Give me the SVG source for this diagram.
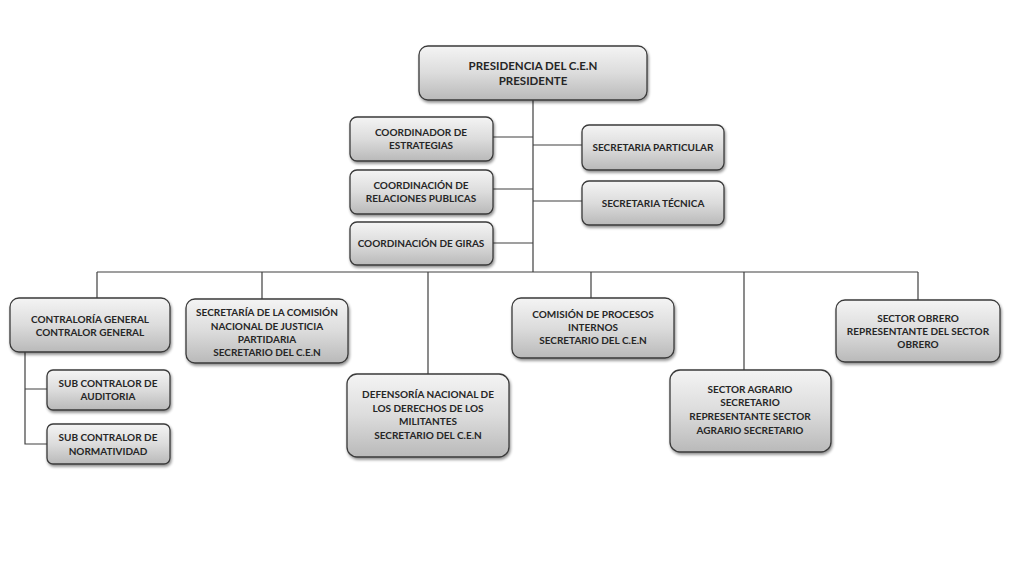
<svg xmlns="http://www.w3.org/2000/svg" width="1024" height="576" viewBox="0 0 1024 576">
<defs>
<linearGradient id="g" x1="0" y1="0" x2="0" y2="1">
<stop offset="0" stop-color="#f4f4f4"/>
<stop offset="0.5" stop-color="#dcdcdc"/>
<stop offset="1" stop-color="#b9b9b9"/>
</linearGradient>
<filter id="sh" x="-10%" y="-10%" width="125%" height="135%">
<feGaussianBlur in="SourceAlpha" stdDeviation="1.5"/>
<feOffset dx="1" dy="2" result="b"/>
<feComponentTransfer><feFuncA type="linear" slope="0.45"/></feComponentTransfer>
<feMerge><feMergeNode/><feMergeNode in="SourceGraphic"/></feMerge>
</filter>
</defs>
<style>
.box{fill:url(#g);stroke:#3a3a3a;stroke-width:1.3;filter:url(#sh)}
.t{font-family:Lato,"Open Sans","Liberation Sans",sans-serif;font-weight:bold;font-size:10px;fill:#262626;text-anchor:middle}
.big{font-size:11.5px}
.c{stroke:#404040;stroke-width:1.2;fill:none}
</style>
<rect width="1024" height="576" fill="#ffffff"/>
<g id="connectors">
<path class="c" d="M533 100V272M493 137H533M493 189H533M493 243H533M533 145H582M533 201H582"/>
<path class="c" d="M97 272H918M97 272V299M262 272V299M428 272V374M591 272V298M744 272V370M918 272V300"/>
<path class="c" d="M25 352V444H47M25 389H47"/>
</g>
<g id="presidencia">
<rect class="box" x="419" y="46" width="228" height="54" rx="9"/>
<text class="t big" x="533" y="70">PRESIDENCIA DEL C.E.N</text>
<text class="t big" x="533" y="85">PRESIDENTE</text>
</g>
<g id="coord-estrategias">
<rect class="box" x="350" y="117" width="143" height="44" rx="7"/>
<text class="t" x="421" y="136">COORDINADOR DE</text>
<text class="t" x="421" y="149">ESTRATEGIAS</text>
</g>
<g id="coord-relaciones">
<rect class="box" x="350" y="170" width="143" height="44" rx="7"/>
<text class="t" x="421" y="189">COORDINACIÓN DE</text>
<text class="t" x="421" y="202">RELACIONES PUBLICAS</text>
</g>
<g id="coord-giras">
<rect class="box" x="350" y="222" width="143" height="43" rx="7"/>
<text class="t" x="421" y="247">COORDINACIÓN DE GIRAS</text>
</g>
<g id="sec-particular">
<rect class="box" x="582" y="125" width="142" height="45" rx="7"/>
<text class="t" x="653" y="151">SECRETARIA PARTICULAR</text>
</g>
<g id="sec-tecnica">
<rect class="box" x="582" y="181" width="142" height="44" rx="7"/>
<text class="t" x="653" y="207">SECRETARIA TÉCNICA</text>
</g>
<g id="contraloria">
<rect class="box" x="10" y="298" width="160" height="54" rx="9"/>
<text class="t" x="90" y="323">CONTRALORÍA GENERAL</text>
<text class="t" x="90" y="336">CONTRALOR GENERAL</text>
</g>
<g id="sub-auditoria">
<rect class="box" x="47" y="370" width="123" height="40" rx="6"/>
<text class="t" x="108" y="387">SUB CONTRALOR DE</text>
<text class="t" x="108" y="400">AUDITORIA</text>
</g>
<g id="sub-normatividad">
<rect class="box" x="47" y="424" width="123" height="40" rx="6"/>
<text class="t" x="108" y="441">SUB CONTRALOR DE</text>
<text class="t" x="108" y="455">NORMATIVIDAD</text>
</g>
<g id="sec-comision">
<rect class="box" x="186" y="299" width="162" height="64" rx="9"/>
<text class="t" x="267" y="316">SECRETARÍA DE LA COMISIÓN</text>
<text class="t" x="267" y="330">NACIONAL DE JUSTICIA</text>
<text class="t" x="267" y="343">PARTIDARIA</text>
<text class="t" x="267" y="356">SECRETARIO DEL C.E.N</text>
</g>
<g id="defensoria">
<rect class="box" x="347" y="374" width="162" height="83" rx="10"/>
<text class="t" x="428" y="398">DEFENSORÍA NACIONAL DE</text>
<text class="t" x="428" y="412">LOS DERECHOS DE LOS</text>
<text class="t" x="428" y="425">MILITANTES</text>
<text class="t" x="428" y="439">SECRETARIO DEL C.E.N</text>
</g>
<g id="comision-procesos">
<rect class="box" x="512" y="298" width="162" height="60" rx="9"/>
<text class="t" x="593" y="318">COMISIÓN DE PROCESOS</text>
<text class="t" x="593" y="331">INTERNOS</text>
<text class="t" x="593" y="344">SECRETARIO DEL C.E.N</text>
</g>
<g id="sector-agrario">
<rect class="box" x="670" y="370" width="161" height="82" rx="10"/>
<text class="t" x="750" y="393">SECTOR AGRARIO</text>
<text class="t" x="750" y="406">SECRETARIO</text>
<text class="t" x="750" y="420">REPRESENTANTE SECTOR</text>
<text class="t" x="750" y="434">AGRARIO SECRETARIO</text>
</g>
<g id="sector-obrero">
<rect class="box" x="836" y="300" width="164" height="62" rx="9"/>
<text class="t" x="918" y="322">SECTOR OBRERO</text>
<text class="t" x="918" y="335">REPRESENTANTE DEL SECTOR</text>
<text class="t" x="918" y="348">OBRERO</text>
</g>
</svg>
